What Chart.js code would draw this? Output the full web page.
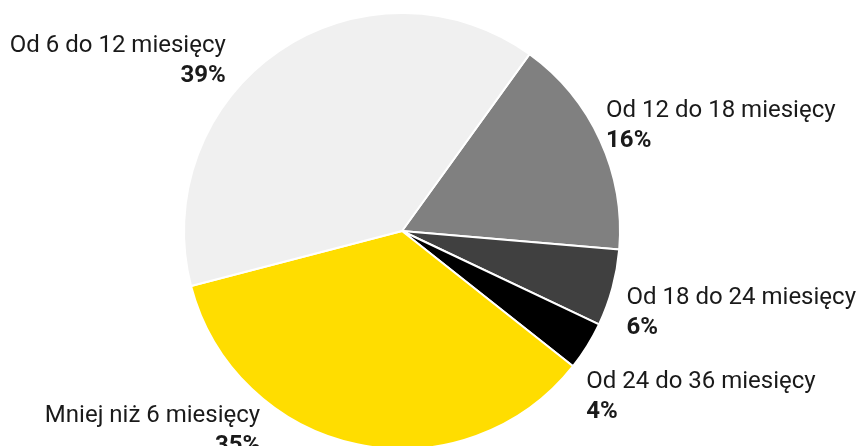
<!DOCTYPE html>
<html>
<head>
<meta charset="utf-8">
<script src="https://cdn.jsdelivr.net/npm/chart.js@4"></script>
<style>
  html, body { margin: 0; padding: 0; background: #fff; }
  #wrap { width: 859px; height: 446px; }
</style>
</head>
<body>
<div id="wrap"><canvas id="myChart"></canvas></div>
<script>
const categories = ["Od 12 do 18 miesięcy", "Od 18 do 24 miesięcy", "Od 24 do 36 miesięcy", "Mniej niż 6 miesięcy", "Od 6 do 12 miesięcy"];
const shares = [16.4, 5.7, 3.6, 35.3, 39.0];
const shareLabels = ["16%", "6%", "4%", "35%", "39%"];
const colors = ["#808080", "#404040", "#000000", "#ffdd00", "#f0f0f0"];

// first-line baseline relative to the slice's outer edge at mid angle
const labelOffsets = [[6, -23], [14, 16], [-1, 42], [-97, -22], [-53, 1]];

const outsideLabels = {
  id: "outsideLabels",
  afterDraw(chart) {
    const ctx = chart.ctx;
    const arcs = chart.getDatasetMeta(0).data;
    ctx.save();
    ctx.fillStyle = "#1a1a1a";
    ctx.textBaseline = "alphabetic";
    arcs.forEach((arc, i) => {
      const mid = (arc.startAngle + arc.endAngle) / 2;
      const ex = arc.x + Math.cos(mid) * arc.outerRadius;
      const ey = arc.y + Math.sin(mid) * arc.outerRadius;
      const x = ex + labelOffsets[i][0];
      const y = ey + labelOffsets[i][1];
      ctx.textAlign = Math.cos(mid) >= 0 ? "left" : "right";
      ctx.font = "24px Roboto";
      ctx.fillText(categories[i], x, y);
      ctx.font = "bold 24px Roboto";
      ctx.fillText(shareLabels[i], x, y + 30);
    });
    ctx.restore();
  }
};

new Chart("myChart", {
  type: "pie",
  data: {
    labels: categories,
    datasets: [{
      data: shares,
      backgroundColor: colors,
      borderColor: "#ffffff",
      borderWidth: 2
    }]
  },
  options: {
    responsive: true,
    maintainAspectRatio: false,
    animation: false,
    rotation: 35.8,
    radius: 218,
    layout: { padding: { top: 16, bottom: 0, left: 0, right: 55 } },
    plugins: {
      legend: { display: false },
      tooltip: { enabled: false }
    }
  },
  plugins: [outsideLabels]
});
</script>
</body>
</html>
